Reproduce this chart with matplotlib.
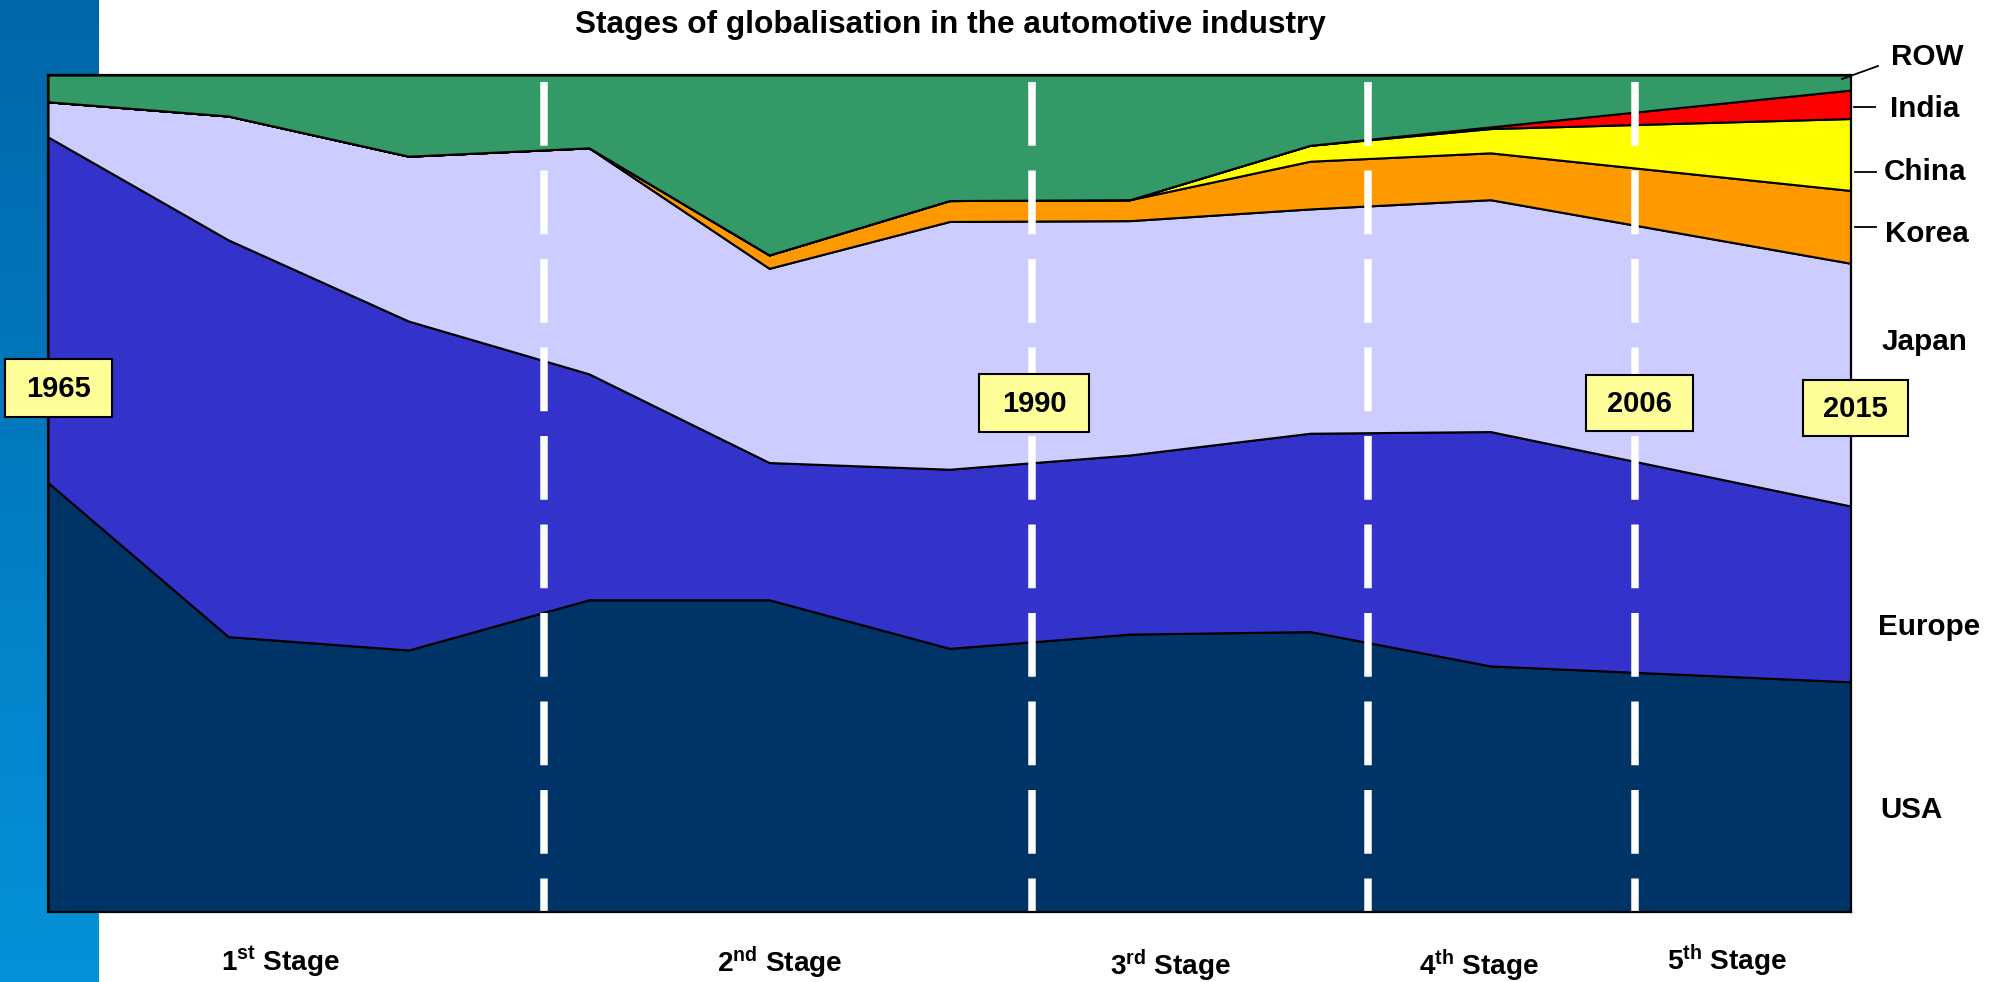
import numpy as np
import matplotlib
matplotlib.use('Agg')
import matplotlib.pyplot as plt
import matplotlib.patches as patches
from matplotlib.lines import Line2D

plt.rcParams['font.family'] = ['Liberation Sans', 'DejaVu Sans']
plt.rcParams['mathtext.fontset'] = 'custom'
plt.rcParams['mathtext.rm'] = 'Liberation Sans:bold'
plt.rcParams['mathtext.it'] = 'Liberation Sans:bold'
plt.rcParams['mathtext.bf'] = 'Liberation Sans:bold'

W, H = 1994, 982

# share of world production (%)
x = [0, 1, 2, 3, 4, 5, 6, 7, 8, 10]
usa = [51.3, 32.9, 31.3, 37.3, 37.3, 31.5, 33.2, 33.5, 29.4, 27.5]
europe = [41.3, 47.4, 39.3, 27.0, 16.4, 21.4, 21.4, 23.7, 28.0, 21.0]
japan = [4.2, 14.8, 19.7, 27.0, 23.2, 29.6, 28.0, 26.8, 27.7, 29.0]
korea = [0, 0, 0, 0, 1.6, 2.5, 2.5, 5.7, 5.6, 8.7]
china = [0, 0, 0, 0, 0, 0, 0, 1.9, 2.9, 8.6]
india = [0, 0, 0, 0, 0, 0, 0, 0, 0.2, 3.4]
row = [100 - sum(v) for v in zip(usa, europe, japan, korea, china, india)]

regions = ['USA', 'Europe', 'Japan', 'Korea', 'China', 'India', 'ROW']
colours = ['#003366', '#3333CC', '#CCCCFF', '#FF9900', '#FFFF00', '#FF0000', '#339966']

years = ['1965', '1990', '2006', '2015']
stages = ['1$^{st}$ Stage', '2$^{nd}$ Stage', '3$^{rd}$ Stage', '4$^{th}$ Stage', '5$^{th}$ Stage']
stage_breaks = [2.75, 5.46, 7.32, 8.80]


def fx(px):
    return px / W


def fy(py):
    return 1 - py / H


fig = plt.figure(figsize=(W / 100, H / 100), dpi=100)

# blue gradient strip on the left
bar_ax = fig.add_axes([0, 0, fx(98), 1], zorder=0)
grad = np.linspace(0, 1, 256).reshape(-1, 1)
top_c = np.array([0x00, 0x66, 0xAA]) / 255
bot_c = np.array([0x05, 0x92, 0xD8]) / 255
img = top_c + (bot_c - top_c) * grad[:, :, None]
bar_ax.imshow(img, aspect='auto', extent=[0, 1, 0, 1], origin='upper')
bar_ax.axis('off')

ax = fig.add_axes([fx(48), fy(912), fx(1851) - fx(48), (912 - 75) / H], zorder=2)
ax.stackplot(x, usa, europe, japan, korea, china, india, row,
             colors=colours, edgecolor='black', linewidth=1.5)
ax.set_xlim(0, 10)
ax.set_ylim(0, 100)
ax.set_xticks([])
ax.set_yticks([])
for sp in ax.spines.values():
    sp.set_linewidth(1.6)
    sp.set_color('black')

for xb in stage_breaks:
    ax.plot([xb, xb], [99.2, 0], color='white', lw=5.4,
            linestyle=(0, (8.5, 3.3)), dash_capstyle='butt')

fig.text(fx(950), fy(25), 'Stages of globalisation in the automotive industry',
         ha='center', va='center', fontsize=22.8, fontweight='bold')

# year boxes (centre x, centre y, w, h) in pixels
year_boxes = [(58, 388, 107, 58), (1034, 403, 110, 58), (1639, 403, 107, 56), (1855, 408, 105, 56)]
for label, (cx, cy, bw, bh) in zip(years, year_boxes):
    rect = patches.Rectangle((fx(cx - bw / 2), fy(cy + bh / 2)), bw / W, bh / H,
                             transform=fig.transFigure, facecolor='#FFFF99',
                             edgecolor='black', lw=1.5, zorder=5)
    fig.patches.append(rect)
    fig.text(fx(cx), fy(cy + 1), label, ha='center', va='center',
             fontsize=21, fontweight='bold', zorder=6)

# region labels on the right
label_pos = [(1911, 810), (1929, 627), (1924, 342), (1927, 234), (1925, 172), (1925, 109), (1927, 57)]
for name, (lx, ly) in zip(regions, label_pos):
    fig.text(fx(lx), fy(ly), name, ha='center', va='center',
             fontsize=21.3, fontweight='bold')

# leader lines
leaders = [((1854, 1875), (107, 107)), ((1855, 1876), (172, 172)),
           ((1855, 1876), (227, 227)), ((1842, 1878), (79, 66))]
for (x0, x1), (y0, y1) in leaders:
    fig.lines.append(Line2D([fx(x0), fx(x1)], [fy(y0), fy(y1)],
                            transform=fig.transFigure, color='black', lw=1.3, zorder=6))

stage_pos = [(281, 962), (780, 963), (1171, 966), (1479, 966), (1727, 961)]
for s, (sx, sy) in zip(stages, stage_pos):
    fig.text(fx(sx), fy(sy), s, ha='center', va='center',
             fontsize=20.2, fontweight='bold')

fig.savefig('out.png', dpi=100, facecolor='white')
